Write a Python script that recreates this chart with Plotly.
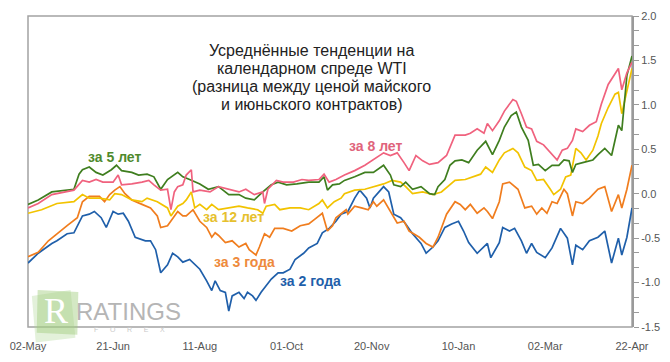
import numpy as np
import pandas as pd
import plotly.graph_objects as go

# ---------------- data (day offsets from 02-May, values) ----------------
base_date = "2013-05-02"

tick_days = [0, 50, 101, 152, 202, 253, 304, 355]
tick_labels = ["02-May", "21-Jun", "11-Aug", "01-Oct", "20-Nov", "10-Jan", "02-Mar", "22-Apr"]

y_tick_vals = [-1.5, -1.0, -0.5, 0.0, 0.5, 1.0, 1.5, 2.0]
y_tick_text = ["-1.5", "-1.0", "-0.5", "0.0", "0.5", "1.0", "1.5", "2.0"]

blue_days = [0, 6, 14, 17, 23, 27, 32, 36, 39, 43, 46, 50, 53, 56, 59, 63, 69, 72, 75, 78, 82, 85, 88, 91, 95,
             101, 105, 108, 110, 113, 116, 118, 120, 124, 127, 129, 132, 134, 137, 140, 143, 147, 150, 154, 157,
             162, 165, 170, 173, 177, 181, 184, 188, 192, 195, 199, 201, 203, 209, 212, 215, 219, 222, 226, 231,
             234, 238, 241, 245, 249, 253, 256, 259, 264, 268, 270, 272, 277, 279, 283, 286, 290, 293, 296, 299,
             304, 308, 313, 317, 320, 322, 326, 330, 335, 339, 343, 347, 349, 352, 355]
blue_vals = [-0.78, -0.67, -0.56, -0.53, -0.45, -0.44, -0.25, -0.23, -0.20, -0.27, -0.38, -0.20, -0.23, -0.22, -0.31,
             -0.49, -0.53, -0.53, -0.63, -0.89, -0.80, -0.67, -0.71, -0.77, -0.74, -0.85, -0.98, -1.09, -0.98, -1.09,
             -1.11, -1.32, -1.15, -1.11, -1.18, -1.11, -1.15, -1.20, -1.11, -1.04, -0.96, -0.89, -0.89, -0.85, -0.74,
             -0.67, -0.61, -0.56, -0.44, -0.39, -0.31, -0.23, -0.20, -0.05, 0.04, -0.05, -0.16, -0.05, 0.08, 0.02,
             -0.23, -0.27, -0.34, -0.45, -0.56, -0.67, -0.60, -0.53, -0.38, -0.34, -0.31, -0.42, -0.55, -0.67, -0.60,
             -0.56, -0.72, -0.55, -0.38, -0.42, -0.39, -0.53, -0.67, -0.56, -0.66, -0.72, -0.61, -0.39, -0.50, -0.80,
             -0.58, -0.63, -0.53, -0.49, -0.42, -0.78, -0.50, -0.69, -0.49, -0.16]

orange_days = [0, 6, 12, 17, 23, 29, 32, 36, 42, 45, 48, 51, 54, 57, 61, 67, 72, 76, 78, 82, 88, 91, 93, 97, 101,
               105, 108, 110, 112, 116, 120, 124, 128, 130, 134, 136, 139, 142, 145, 150, 155, 160, 165, 169, 173,
               176, 179, 181, 184, 187, 188, 192, 196, 200, 203, 205, 209, 213, 217, 221, 224, 230, 234, 238, 241,
               246, 251, 254, 257, 260, 264, 268, 270, 273, 277, 279, 283, 288, 292, 296, 299, 302, 305, 308, 311,
               315, 317, 320, 322, 326, 330, 335, 339, 343, 347, 349, 352, 355]
orange_vals = [-0.71, -0.66, -0.53, -0.45, -0.36, -0.27, -0.09, -0.03, -0.03, -0.09, -0.01, 0.04, 0.08, 0.00, -0.07,
               -0.12, -0.16, -0.25, -0.38, -0.36, -0.20, -0.25, -0.25, -0.18, -0.31, -0.38, -0.49, -0.44, -0.47, -0.55,
               -0.53, -0.60, -0.56, -0.63, -0.69, -0.60, -0.45, -0.49, -0.39, -0.39, -0.42, -0.36, -0.34, -0.28, -0.22,
               -0.42, -0.36, -0.27, -0.22, -0.18, -0.23, -0.14, -0.16, -0.18, -0.09, -0.14, -0.07, -0.20, -0.33, -0.31,
               -0.42, -0.49, -0.56, -0.60, -0.49, -0.23, -0.09, -0.12, -0.18, -0.12, -0.22, -0.16, -0.20, -0.28, -0.09,
               0.11, 0.13, 0.05, -0.16, -0.14, -0.23, -0.16, -0.22, -0.09, -0.11, 0.05, 0.00, -0.25, -0.09, -0.11,
               -0.05, 0.05, 0.08, -0.20, -0.01, -0.16, 0.05, 0.32]

yellow_days = [0, 8, 17, 27, 32, 36, 42, 48, 51, 55, 61, 67, 70, 76, 82, 84, 88, 91, 93, 96, 98, 101, 105, 108, 112,
               118, 124, 129, 135, 138, 140, 145, 148, 154, 160, 165, 171, 173, 176, 180, 184, 186, 192, 198, 203,
               209, 214, 219, 222, 226, 232, 238, 243, 247, 251, 257, 262, 266, 269, 273, 277, 280, 285, 288, 292,
               296, 299, 303, 307, 309, 313, 316, 319, 322, 325, 328, 332, 335, 337, 341, 345, 347, 349, 352, 355]
yellow_vals = [-0.22, -0.18, -0.11, -0.09, -0.01, -0.05, -0.05, -0.07, 0.00, -0.01, -0.07, -0.09, -0.05, -0.09, -0.16,
               -0.25, -0.14, -0.11, -0.07, 0.02, -0.16, -0.12, -0.18, -0.12, -0.18, -0.16, -0.14, -0.16, -0.18, -0.22,
               -0.14, -0.12, -0.18, -0.16, -0.16, -0.18, -0.11, -0.07, -0.16, -0.09, -0.05, 0.00, 0.04, 0.05, 0.08,
               0.11, 0.15, 0.13, 0.08, 0.00, 0.02, -0.01, 0.02, 0.08, 0.15, 0.16, 0.19, 0.22, 0.30, 0.24,
               0.38, 0.46, 0.51, 0.46, 0.30, 0.26, 0.15, 0.16, 0.05, -0.01, 0.05, 0.19, 0.21, 0.51, 0.46,
               0.38, 0.49, 0.65, 0.79, 0.97, 1.12, 1.14, 0.90, 1.15, 1.41]

green_days = [0, 6, 14, 21, 27, 30, 32, 36, 40, 44, 49, 52, 55, 61, 65, 70, 74, 78, 82, 88, 91, 95, 101, 106, 112,
              118, 124, 128, 133, 138, 143, 147, 152, 158, 165, 171, 174, 176, 179, 183, 186, 192, 198, 203, 209,
              213, 215, 219, 222, 226, 231, 236, 239, 241, 245, 248, 251, 255, 259, 264, 269, 273, 277, 280, 284,
              287, 290, 294, 297, 300, 304, 308, 312, 315, 318, 320, 322, 326, 332, 335, 339, 343, 347, 349, 351,
              352, 355]
green_vals = [-0.12, -0.07, 0.02, 0.04, 0.05, 0.22, 0.27, 0.30, 0.24, 0.21, 0.27, 0.32, 0.26, 0.24, 0.21,
              0.22, 0.19, 0.05, 0.16, 0.24, 0.19, 0.16, 0.11, 0.05, 0.08, -0.01, -0.01, -0.05, -0.07, 0.02,
              0.10, 0.13, 0.10, 0.11, 0.13, 0.13, 0.19, 0.04, 0.10, 0.11, 0.15, 0.19, 0.24, 0.24, 0.32,
              0.21, 0.10, 0.08, 0.13, 0.05, 0.08, 0.00, -0.01, 0.08, 0.16, 0.32, 0.37, 0.38, 0.35, 0.49,
              0.59, 0.44, 0.60, 0.75, 0.88, 0.92, 0.75, 0.60, 0.32, 0.33, 0.26, 0.32, 0.32, 0.38, 0.37,
              0.24, 0.33, 0.35, 0.38, 0.44, 0.51, 0.43, 0.77, 0.71, 1.08, 1.33, 1.55]

pink_days = [0, 6, 14, 21, 27, 32, 36, 40, 44, 50, 53, 55, 61, 67, 71, 74, 78, 82, 84, 86, 88, 91, 93, 96, 97,
             101, 107, 112, 118, 124, 128, 133, 138, 139, 141, 146, 150, 156, 161, 165, 171, 174, 177, 181, 186,
             192, 198, 203, 209, 213, 217, 221, 224, 228, 232, 236, 241, 246, 249, 251, 257, 260, 264, 268, 270,
             273, 277, 280, 285, 287, 290, 293, 296, 299, 303, 307, 311, 314, 317, 320, 322, 326, 330, 334, 337,
             341, 345, 347, 349, 352, 355]
pink_vals = [-0.16, -0.11, -0.01, 0.02, 0.04, 0.15, 0.13, 0.16, 0.13, 0.13, 0.21, 0.10, 0.11, 0.13, 0.15,
             0.10, 0.04, 0.05, -0.18, 0.02, 0.08, 0.10, 0.21, 0.27, 0.02, 0.04, 0.02, 0.08, 0.05, 0.02,
             0.05, -0.01, 0.02, -0.11, 0.05, 0.15, 0.13, 0.13, 0.16, 0.15, 0.16, 0.22, 0.13, 0.16, 0.21,
             0.26, 0.32, 0.38, 0.46, 0.43, 0.46, 0.35, 0.26, 0.43, 0.37, 0.33, 0.35, 0.43, 0.57, 0.66,
             0.66, 0.68, 0.73, 0.68, 0.79, 0.71, 0.82, 0.93, 1.06, 1.04, 0.90, 0.75, 0.73, 0.59, 0.55,
             0.46, 0.38, 0.49, 0.51, 0.60, 0.73, 0.70, 0.77, 0.81, 1.01, 1.23, 1.36, 1.41, 1.17, 1.36, 1.48]

series_names = ["за 2 года", "за 3 года", "за 12 лет", "за 5 лет", "за 8 лет"]
series_days = [blue_days, orange_days, yellow_days, green_days, pink_days]
series_vals = [blue_vals, orange_vals, yellow_vals, green_vals, pink_vals]
series_colors = ["#1F5FAA", "#F07D1E", "#F2C300", "#3F7E1F", "#F0627E"]
label_colors = ["#1F5FAA", "#EE8A3C", "#E6C02E", "#4F8A2C", "#E0647C"]

title_lines = ["Усреднённые тенденции на", "календарном спреде WTI",
               "(разница между ценой майского", "и июньского контрактов)"]

# ---------------- figure ----------------
W, H = 670, 362
ML, MR, MT, MB = 17, 29, 10, 32
PW, PH = W - ML - MR, H - MT - MB


def px(x, y):
    """pixel position -> paper coordinates (for decorations/annotations)"""
    return (x - ML) / PW, (H - MB - y) / PH


base = pd.Timestamp(base_date)


def to_dates(days):
    return [base + pd.Timedelta(days=int(d)) for d in days]


fig = go.Figure()
for name, d, v, c in zip(series_names, series_days, series_vals, series_colors):
    assert len(d) == len(v), name
    fig.add_trace(go.Scatter(x=to_dates(d), y=v, mode="lines", name=name,
                             line=dict(color=c, width=1.7), hoverinfo="skip"))

minor_vals = list(np.round(np.arange(-1.5, 2.0001, 0.5 / 3), 4))

fig.update_layout(
    width=W, height=H,
    margin=dict(l=ML, r=MR, t=MT, b=MB, pad=0),
    paper_bgcolor="white", plot_bgcolor="white",
    showlegend=False,
    font=dict(family="Liberation Sans, Arial, sans-serif", size=11, color="#555555"),
    xaxis=dict(
        range=[base, base + pd.Timedelta(days=355)],
        tickmode="array", tickvals=to_dates(tick_days), ticktext=tick_labels,
        showgrid=False, zeroline=False, showline=False,
        ticks="outside", ticklen=9, tickcolor="rgba(0,0,0,0)",
        ticklabeloverflow="allow",
        tickfont=dict(size=11, color="#555555"),
    ),
    yaxis=dict(
        side="right", range=[-1.5, 2.0],
        tickmode="array", tickvals=y_tick_vals, ticktext=y_tick_text,
        showgrid=False, zeroline=False,
        showline=True, linecolor="#9a9a9a", linewidth=2,
        ticks="outside", ticklen=5, tickcolor="#9a9a9a", tickwidth=1,
        minor=dict(tickmode="array", tickvals=minor_vals, ticks="outside",
                   ticklen=5, tickcolor="#9a9a9a", tickwidth=1),
        ticklabeloverflow="allow",
        tickfont=dict(size=11, color="#555555"),
    ),
)

shapes = []
# plot border (top, left, bottom)
shapes.append(dict(type="rect", xref="paper", yref="paper", x0=0, x1=1, y0=0, y1=1,
                   line=dict(color="#a3a3a3", width=1.5), fillcolor="rgba(0,0,0,0)", layer="below"))


def quad(points, fill):
    pts = [px(*p) for p in points]
    path = "M " + " L ".join(f"{a:.4f},{b:.4f}" for a, b in pts) + " Z"
    return dict(type="path", xref="paper", yref="paper", path=path,
                fillcolor=fill, line=dict(width=0), layer="below")


# watermark logo
shapes.append(quad([(21, 298), (61, 292), (66, 341), (25, 346)], "rgba(175,215,150,0.35)"))
shapes.append(quad([(27, 292), (69, 294), (68, 338), (26, 336)], "rgba(160,205,125,0.45)"))
fig.update_layout(shapes=shapes)

ann = []
for i, line in enumerate(title_lines):
    tx, ty = px(310, 45 + i * 18.7)
    ann.append(dict(x=tx, y=ty, xref="paper", yref="paper", text=line, showarrow=False,
                    font=dict(family="Liberation Sans, Arial, sans-serif", size=16, color="#222222"),
                    xanchor="center", yanchor="middle"))

label_pos = [(309, 283), (241, 263), (229, 217), (106, 155), (376, 144)]
for name, (lx, ly), c in zip(series_names, label_pos, label_colors):
    ax_, ay_ = px(lx, ly)
    ann.append(dict(x=ax_, y=ay_, xref="paper", yref="paper", text=f"<b>{name}</b>",
                    showarrow=False, xanchor="center", yanchor="middle",
                    font=dict(family="Liberation Sans, Arial, sans-serif", size=14, color=c)))

# logo texts
rx, ry = px(46, 314)
ann.append(dict(x=rx, y=ry, xref="paper", yref="paper", text="R", showarrow=False,
                xanchor="center", yanchor="middle",
                font=dict(family="Liberation Serif, serif", size=36, color="white")))
gx, gy = px(121, 314)
ann.append(dict(x=gx, y=gy, xref="paper", yref="paper", text="RATINGS", showarrow=False,
                xanchor="center", yanchor="middle",
                font=dict(family="Liberation Sans, Arial, sans-serif", size=24, color="#b5b5b5")))
fx, fy = px(122, 333)
ann.append(dict(x=fx, y=fy, xref="paper", yref="paper", text="F      O      R      E      X",
                showarrow=False, xanchor="center", yanchor="middle",
                font=dict(family="Liberation Sans, Arial, sans-serif", size=7, color="#c9c9c9")))

fig.update_layout(annotations=ann)

fig.write_html("out.html", config={"displayModeBar": False},
               post_script="document.body.style.margin='0px';")
